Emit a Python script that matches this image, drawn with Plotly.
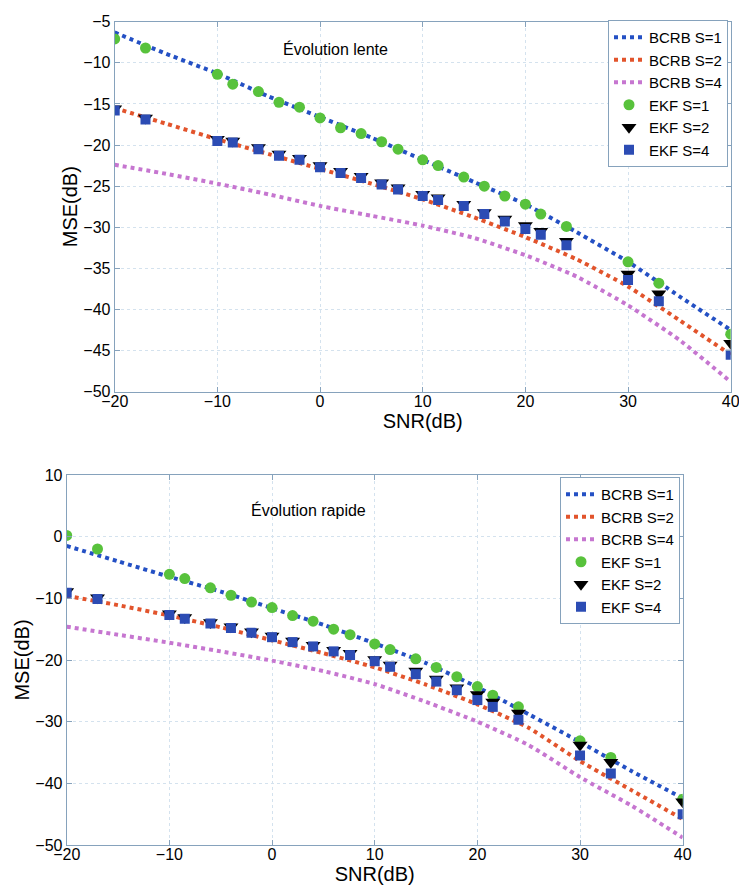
import plotly.graph_objects as go

# SNR grid of the EKF simulations and the grid of the bound curves (dB)
snr = [-20, -17, -10, -8.5, -6, -4, -2, 0, 2, 4, 6, 7.6, 10, 11.5, 14, 16, 18, 20, 21.5, 24, 30, 33, 40]
snr_bound = [-20, -15, -10, -5, 0, 5, 10, 15, 20, 25, 30, 35, 40]

# Slow evolution ("Évolution lente")
lente_bcrb_s1 = [-6.3, -8.9, -11.3, -14.1, -16.6, -19.1, -21.8, -24.5, -27.2, -30.6, -34.2, -38.4, -42.5]
lente_bcrb_s2 = [-15.5, -17.4, -19.3, -21.1, -22.9, -24.7, -26.6, -28.8, -31.2, -33.9, -37.2, -41.3, -45.5]
lente_bcrb_s4 = [-22.4, -23.5, -24.7, -26.0, -27.4, -28.6, -29.8, -31.3, -33.4, -36.0, -39.5, -43.7, -48.8]
lente_ekf_s1 = [-7.1, -8.2, -11.4, -12.6, -13.5, -14.8, -15.4, -16.7, -17.9, -18.6, -19.6, -20.5,
                -21.8, -22.5, -23.9, -25.0, -26.2, -27.2, -28.4, -29.9, -34.2, -36.8, -43.0]
lente_ekf_s2 = [-15.6, -16.7, -19.3, -19.5, -20.3, -21.1, -21.6, -22.5, -23.2, -23.8, -24.6, -25.2,
                -26.0, -26.4, -27.2, -28.2, -29.0, -29.8, -30.5, -31.7, -35.7, -38.1, -44.1]
lente_ekf_s4 = [-15.8, -16.9, -19.5, -19.7, -20.5, -21.3, -21.8, -22.7, -23.4, -24.0, -24.8, -25.4,
                -26.2, -26.7, -27.4, -28.4, -29.3, -30.2, -30.9, -32.2, -36.4, -39.0, -45.5]

# Fast evolution ("Évolution rapide")
rapide_bcrb_s1 = [-1.5, -4.0, -6.5, -8.9, -11.6, -14.3, -17.3, -20.5, -24.4, -28.8, -33.3, -38.0, -42.4]
rapide_bcrb_s2 = [-9.6, -11.1, -12.8, -14.7, -16.8, -18.9, -21.2, -24.0, -27.2, -31.0, -36.4, -41.1, -45.8]
rapide_bcrb_s4 = [-14.6, -15.9, -17.2, -18.6, -20.1, -21.8, -23.9, -26.8, -30.0, -33.8, -39.0, -43.6, -48.8]
rapide_ekf_s1 = [0.2, -2.0, -6.1, -6.8, -8.3, -9.5, -10.6, -11.5, -12.8, -13.7, -15.0, -15.9,
                 -17.4, -18.3, -19.8, -21.2, -22.7, -24.3, -25.7, -27.6, -33.1, -35.8, -42.6]
rapide_ekf_s2 = [-8.9, -9.9, -12.5, -13.1, -13.9, -14.6, -15.4, -16.1, -16.9, -17.6, -18.4, -18.9,
                 -19.9, -20.8, -21.8, -23.1, -24.5, -25.6, -26.8, -28.6, -33.8, -36.6, -43.0]
rapide_ekf_s4 = [-9.1, -10.1, -12.7, -13.3, -14.1, -14.8, -15.6, -16.3, -17.1, -17.8, -18.6, -19.2,
                 -20.2, -21.1, -22.3, -23.5, -24.9, -26.5, -27.6, -29.7, -35.5, -38.4, -45.0]

x_ticks = [-20, -10, 0, 10, 20, 30, 40]
y_ticks_lente = [-5, -10, -15, -20, -25, -30, -35, -40, -45, -50]
y_ticks_rapide = [10, 0, -10, -20, -30, -40, -50]

bound_names = ["BCRB S=1", "BCRB S=2", "BCRB S=4"]
ekf_names = ["EKF S=1", "EKF S=2", "EKF S=4"]

FONT = "Liberation Sans, Arial, Helvetica, sans-serif"
BLUE = "#2450c4"
RED = "#e2542c"
MAGENTA = "#c676d0"
GREEN = "#58c23c"
SQUARE = "#2c4cb4"
AXIS = "#86a2bc"
GRID = "#d4e2ee"

fig = go.Figure()


def add_panel(xa, ya, legend, bounds, ekf):
    for name, y, color in zip(bound_names, bounds, [BLUE, RED, MAGENTA]):
        fig.add_trace(go.Scatter(
            x=snr_bound, y=y, name=name, mode="lines", xaxis=xa, yaxis=ya, legend=legend,
            line=dict(color=color, width=4, dash="4px,4px", shape="spline", smoothing=0.5),
        ))
    styles = [
        dict(symbol="circle", size=11, color=GREEN, line=dict(width=0)),
        dict(symbol="triangle-down", size=13, color="black", line=dict(width=0)),
        dict(symbol="square", size=10, color=SQUARE, line=dict(width=0)),
    ]
    for name, y, mk in zip(ekf_names, ekf, styles):
        fig.add_trace(go.Scatter(
            x=snr, y=y, name=name, mode="markers", xaxis=xa, yaxis=ya, legend=legend,
            marker=mk,
        ))


add_panel("x", "y", "legend", [lente_bcrb_s1, lente_bcrb_s2, lente_bcrb_s4],
          [lente_ekf_s1, lente_ekf_s2, lente_ekf_s4])
add_panel("x2", "y2", "legend2", [rapide_bcrb_s1, rapide_bcrb_s2, rapide_bcrb_s4],
          [rapide_ekf_s1, rapide_ekf_s2, rapide_ekf_s4])

W, H = 739, 885


def xaxis(domain, anchor):
    return dict(
        domain=domain, anchor=anchor, range=[-20, 40], tickvals=x_ticks, automargin=False,
        showline=True, linecolor=AXIS, linewidth=1, mirror="allticks",
        ticks="inside", ticklen=5, tickcolor=AXIS, ticklabelstandoff=-5,
        ticklabeloverflow="allow",
        showgrid=True, gridcolor=GRID, griddash="dot", gridwidth=1, zeroline=False,
        tickfont=dict(size=16, color="black", family=FONT),
        title=dict(text="SNR(dB)", font=dict(size=20, color="black", family=FONT), standoff=0),
    )


def yaxis(domain, anchor, rng, ticks):
    return dict(
        domain=domain, anchor=anchor, range=rng, tickvals=ticks, automargin=False,
        showline=True, linecolor=AXIS, linewidth=1, mirror="allticks",
        ticks="inside", ticklen=5, tickcolor=AXIS, ticklabeloverflow="allow",
        showgrid=True, gridcolor=GRID, griddash="dot", gridwidth=1, zeroline=False,
        tickfont=dict(size=16, color="black", family=FONT),
        title=dict(text="MSE(dB)", font=dict(size=20, color="black", family=FONT), standoff=0),
    )


legend_style = dict(
    bgcolor="white", bordercolor=AXIS, borderwidth=1,
    font=dict(size=15, color="black", family=FONT),
    xanchor="right", yanchor="top", tracegroupgap=0, itemwidth=30,
)

fig.update_layout(
    width=W, height=H, autosize=False,
    margin=dict(l=0, r=0, t=0, b=0),
    paper_bgcolor="white", plot_bgcolor="white",
    font=dict(family=FONT, color="black"),
    xaxis=xaxis([114.7 / W, 730.7 / W], "y"),
    yaxis=yaxis([1 - 391.7 / H, 1 - 21.7 / H], "x", [-50, -5], y_ticks_lente),
    xaxis2=xaxis([66.7 / W, 682.7 / W], "y2"),
    yaxis2=yaxis([1 - 845 / H, 1 - 475 / H], "x2", [-50, 10], y_ticks_rapide),
    legend=dict(x=728 / W, y=1 - 20 / H, **legend_style),
    legend2=dict(x=680 / W, y=1 - 477 / H, **legend_style),
    annotations=[
        dict(text="Évolution lente", x=-3.8, y=-8.3, xref="x", yref="y",
             xanchor="left", yanchor="middle", showarrow=False,
             font=dict(size=16, color="black", family=FONT)),
        dict(text="Évolution rapide", x=-2.2, y=4.4, xref="x2", yref="y2",
             xanchor="left", yanchor="middle", showarrow=False,
             font=dict(size=16, color="black", family=FONT)),
    ],
)

fig.write_html("out.html")
